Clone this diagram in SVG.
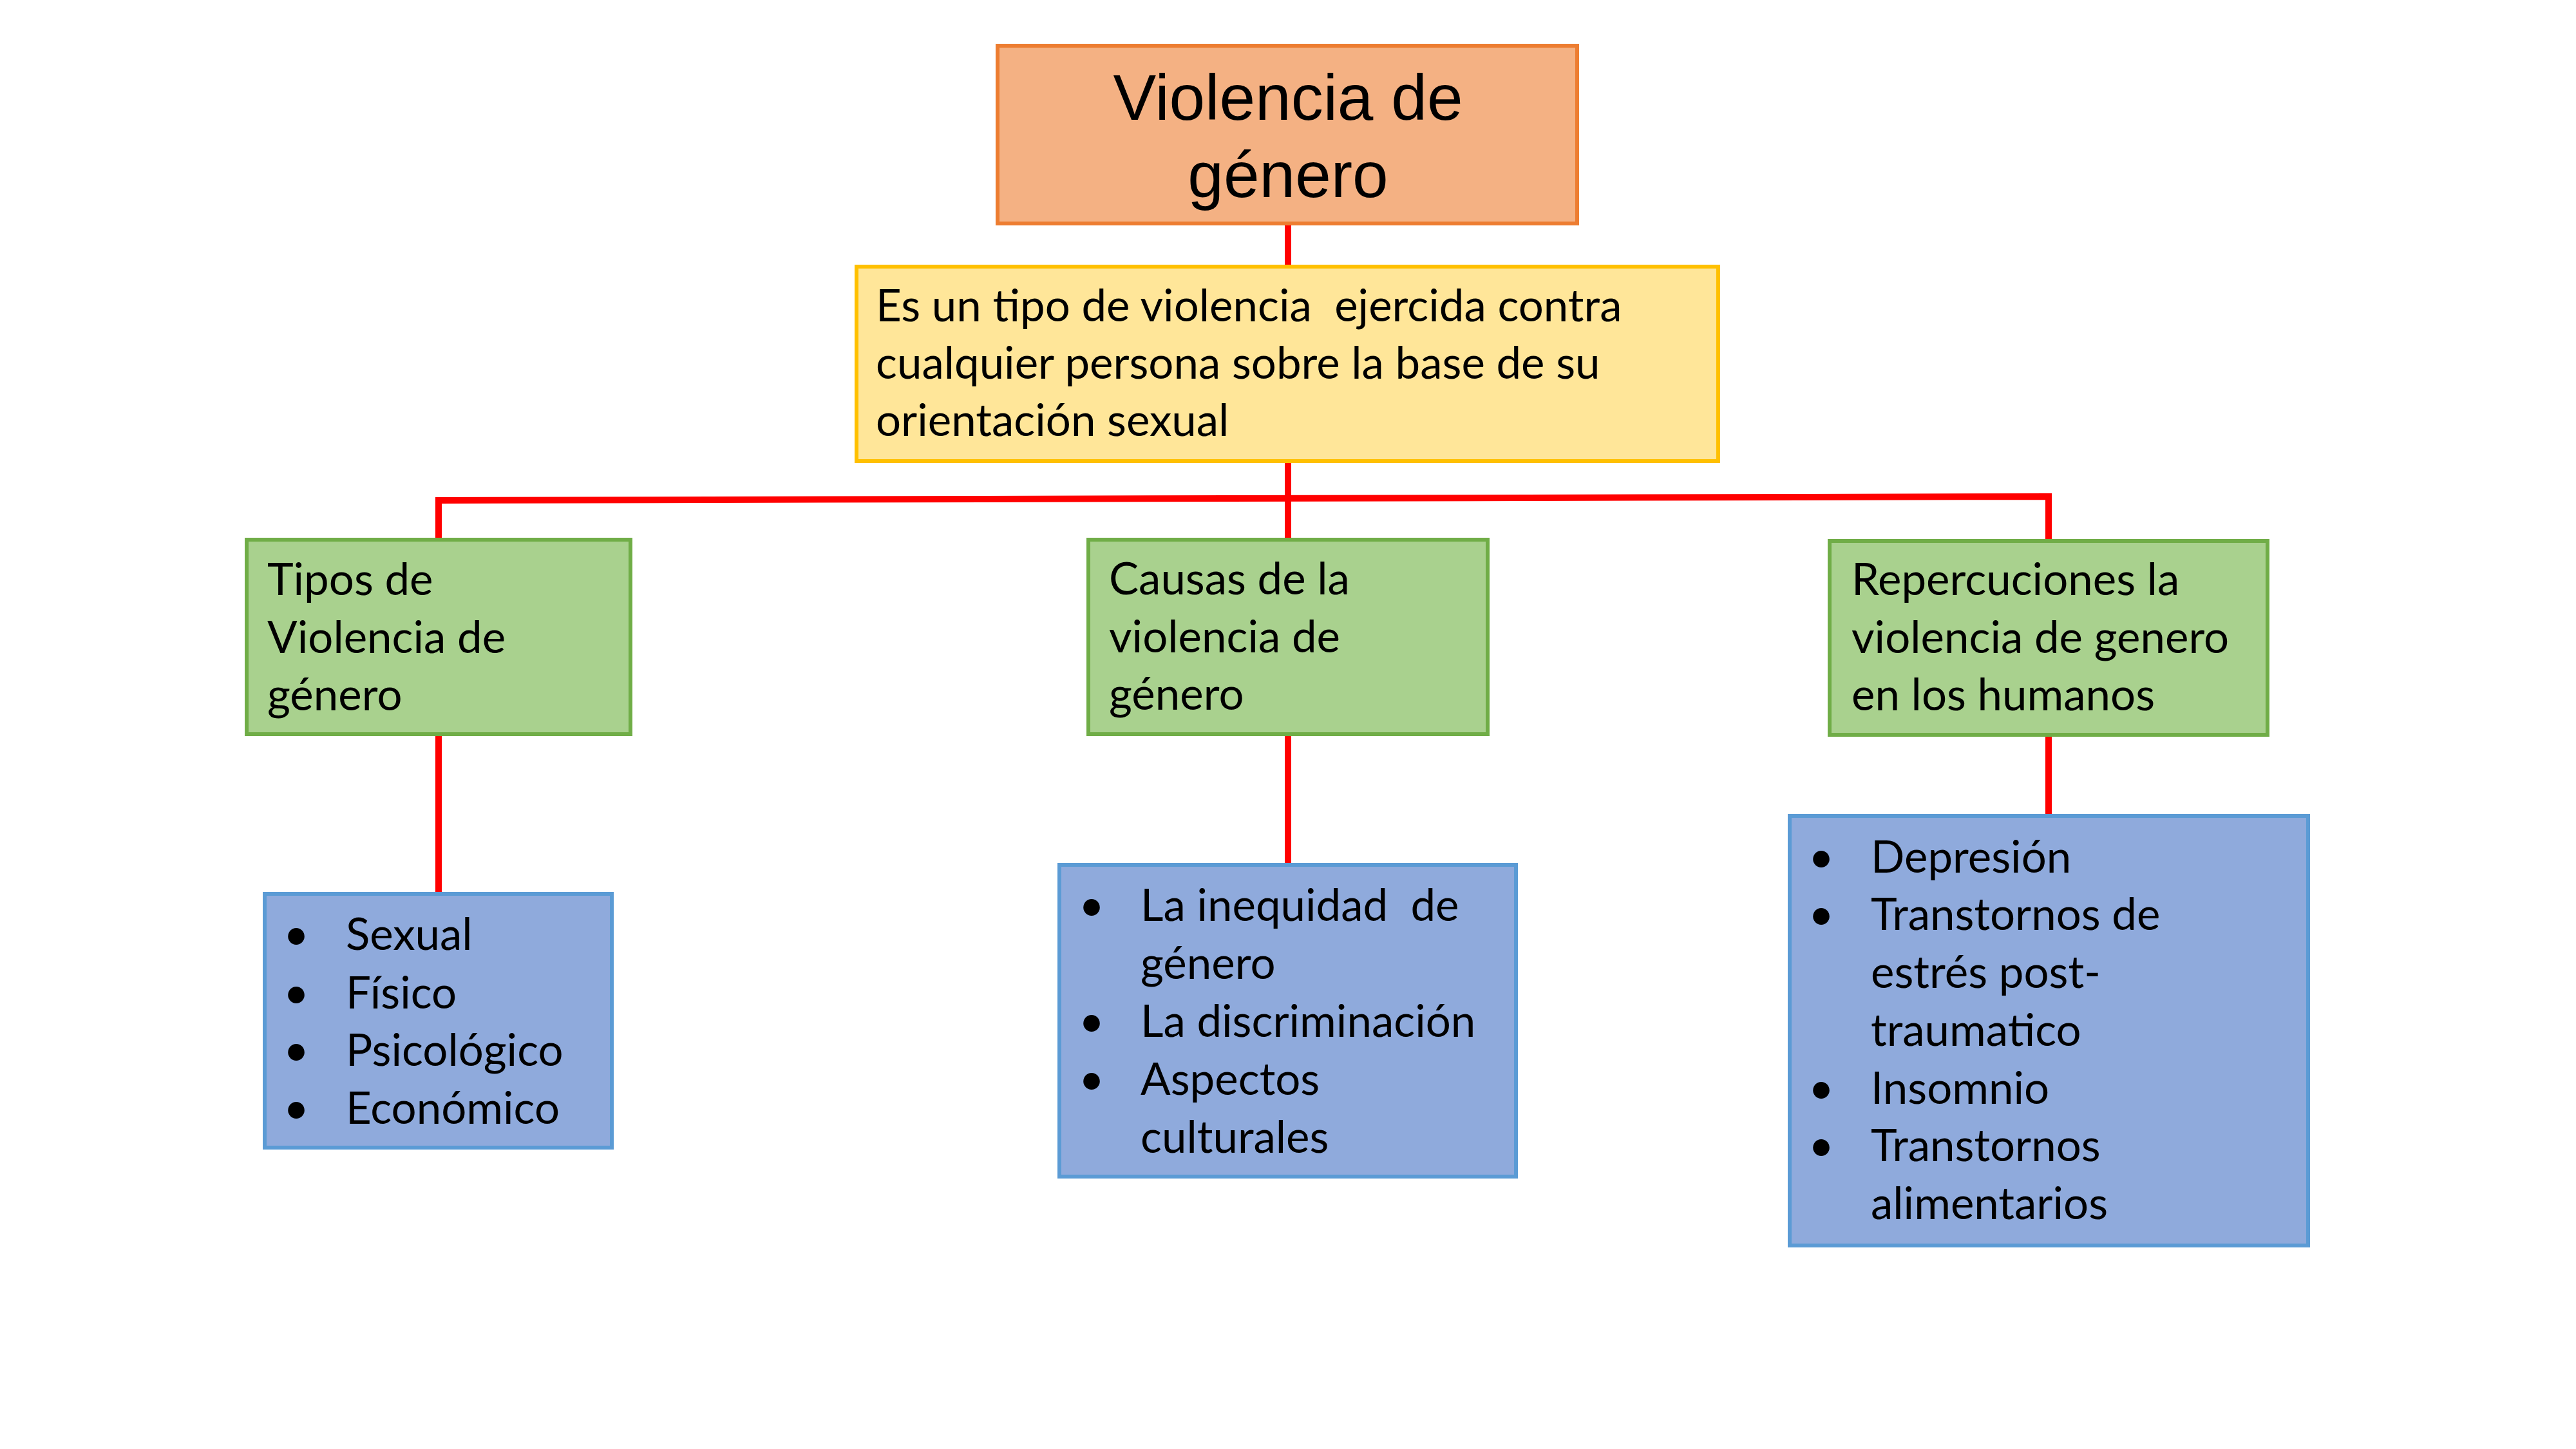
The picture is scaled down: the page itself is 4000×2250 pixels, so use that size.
<svg xmlns="http://www.w3.org/2000/svg" width="4000" height="2250" viewBox="0 0 4000 2250">
<style>
.t{font-family:Lato,"Open Sans","Liberation Sans",sans-serif;font-size:69px;fill:#000}
.title{font-family:"Liberation Sans",Arial,sans-serif;font-size:100px;fill:#000;text-anchor:middle}
.b{stroke-width:6}
.green{fill:#A9D18E;stroke:#70AD47}
.blue{fill:#8FAADC;stroke:#5B9BD5}
.con{fill:none;stroke:#FF0000;stroke-width:10}
</style>
<rect width="4000" height="2250" fill="#FFFFFF"/>
<g id="connectors">
<line class="con" x1="2000" y1="347" x2="2000" y2="413"/>
<line class="con" x1="2000" y1="717" x2="2000" y2="837"/>
<polyline class="con" points="681,837 681,777 3181,771 3181,839"/>
<line class="con" x1="681" y1="1141" x2="681" y2="1388"/>
<line class="con" x1="2000" y1="1141" x2="2000" y2="1343"/>
<line class="con" x1="3181" y1="1142" x2="3181" y2="1268"/>
</g>
<g id="title">
<rect x="1549" y="71" width="900" height="276" fill="#F4B183" stroke="#ED7D31" class="b"/>
<text class="title" x="2000" y="186">Violencia de</text>
<text class="title" x="2000" y="306">género</text>
</g>
<g id="definicion">
<rect x="1330" y="414" width="1338" height="302" fill="#FFE699" stroke="#FFC000" class="b"/>
<text class="t" x="1360" y="499" xml:space="preserve">Es un tipo de violencia  ejercida contra</text>
<text class="t" x="1360" y="588">cualquier persona sobre la base de su</text>
<text class="t" x="1360" y="677">orientación sexual</text>
</g>
<g id="tipos">
<rect x="383" y="838" width="596" height="302" class="green b"/>
<text class="t" x="415" y="924">Tipos de</text>
<text class="t" x="415" y="1014">Violencia de</text>
<text class="t" x="415" y="1103">género</text>
</g>
<g id="causas">
<rect x="1690" y="838" width="620" height="302" class="green b"/>
<text class="t" x="1722" y="923">Causas de la</text>
<text class="t" x="1722" y="1013">violencia de</text>
<text class="t" x="1722" y="1102">género</text>
</g>
<g id="repercusiones">
<rect x="2841" y="840" width="680" height="301" class="green b"/>
<text class="t" x="2875" y="924">Repercuciones la</text>
<text class="t" x="2875" y="1014">violencia de genero</text>
<text class="t" x="2875" y="1103">en los humanos</text>
</g>
<g id="lista-tipos">
<rect x="411" y="1388" width="539" height="394" class="blue b"/>
<g class="t">
<text x="440" y="1475">•</text><text x="537" y="1475">Sexual</text>
<text x="440" y="1566">•</text><text x="537" y="1566">Físico</text>
<text x="440" y="1655">•</text><text x="537" y="1655">Psicológico</text>
<text x="440" y="1745">•</text><text x="537" y="1745">Económico</text>
</g>
</g>
<g id="lista-causas">
<rect x="1645" y="1343" width="709" height="484" class="blue b"/>
<g class="t">
<text x="1675" y="1430">•</text><text x="1771" y="1430" xml:space="preserve">La inequidad  de</text>
<text x="1771" y="1520">género</text>
<text x="1675" y="1610">•</text><text x="1771" y="1610">La discriminación</text>
<text x="1675" y="1700">•</text><text x="1771" y="1700">Aspectos</text>
<text x="1771" y="1790">culturales</text>
</g>
</g>
<g id="lista-repercusiones">
<rect x="2779" y="1267" width="805" height="667" class="blue b"/>
<g class="t">
<text x="2808" y="1355">•</text><text x="2905" y="1355">Depresión</text>
<text x="2808" y="1444">•</text><text x="2905" y="1444">Transtornos de</text>
<text x="2905" y="1534">estrés post-</text>
<text x="2905" y="1624">traumatico</text>
<text x="2808" y="1714">•</text><text x="2905" y="1714">Insomnio</text>
<text x="2808" y="1803">•</text><text x="2905" y="1803">Transtornos</text>
<text x="2905" y="1893">alimentarios</text>
</g>
</g>
</svg>
